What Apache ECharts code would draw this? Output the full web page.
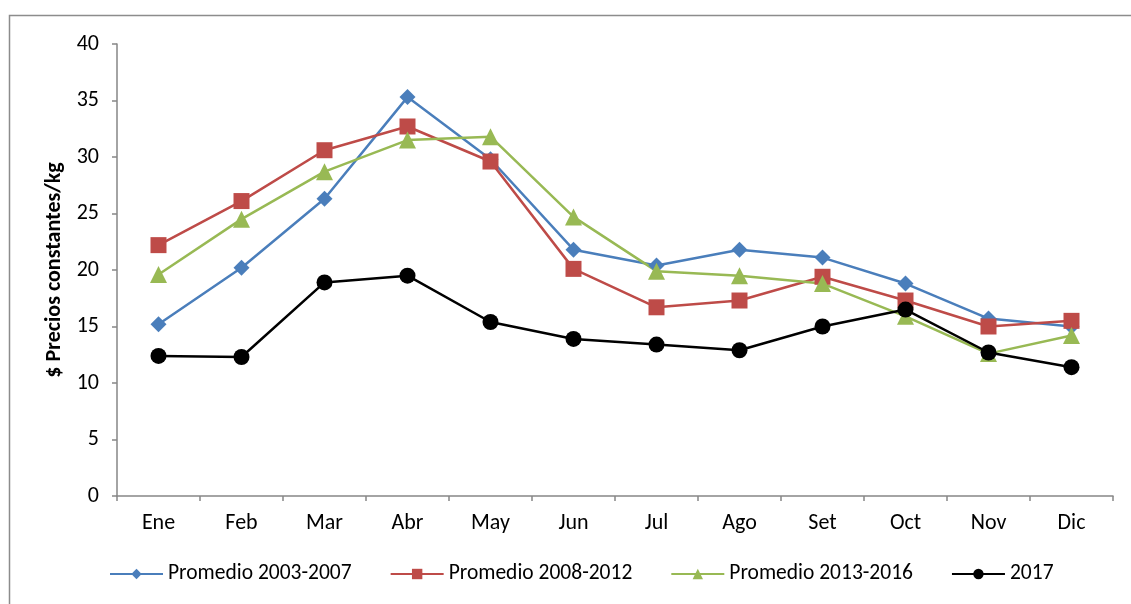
<!DOCTYPE html>
<html>
<head>
<meta charset="utf-8">
<script src="https://cdn.jsdelivr.net/npm/echarts@6/dist/echarts.min.js"></script>
<style>
html,body{margin:0;padding:0;background:#fff;}
#chart{width:1131px;height:604px;}
</style>
</head>
<body>
<div id="chart"></div>
<script>
var months = ['Ene','Feb','Mar','Abr','May','Jun','Jul','Ago','Set','Oct','Nov','Dic'];
var prom0307 = [15.2, 20.2, 26.3, 35.3, 29.8, 21.8, 20.4, 21.8, 21.1, 18.8, 15.7, 15.0];
var prom0812 = [22.2, 26.1, 30.6, 32.7, 29.6, 20.1, 16.7, 17.3, 19.4, 17.3, 15.0, 15.5];
var prom1316 = [19.6, 24.5, 28.7, 31.5, 31.8, 24.7, 19.9, 19.5, 18.8, 15.9, 12.6, 14.2];
var y2017 = [12.4, 12.3, 18.9, 19.5, 15.4, 13.9, 13.4, 12.9, 15.0, 16.5, 12.7, 11.4];
var seriesNames = ['Promedio 2003-2007','Promedio 2008-2012','Promedio 2013-2016','2017'];

var font = 'Carlito, "Open Sans", "Noto Sans", sans-serif';
var chart = echarts.init(document.getElementById('chart'));
function mk(name, data, color, symbol, size) {
  return {
    name: name, type: 'line', data: data, symbol: symbol, symbolSize: size,
    lineStyle: {color: color, width: 2.5},
    itemStyle: {color: color},
    animation: false
  };
}
chart.setOption({
  backgroundColor: '#fff',
  animation: false,
  graphic: [{
    type: 'rect', shape: {x: 9.5, y: 15.5, width: 1200, height: 700},
    style: {fill: 'none', stroke: '#8c8c8c', lineWidth: 1.5}, silent: true
  }],
  grid: {left: 117, right: 18, top: 44, bottom: 108},
  legend: {
    top: 558, left: 104, itemWidth: 53, itemHeight: 13, itemGap: 38,
    textStyle: {fontFamily: font, fontSize: 21.5, color: '#000', padding: [0, 0, 0, 0]},
    data: seriesNames
  },
  xAxis: {
    type: 'category', data: months, boundaryGap: true,
    axisLine: {lineStyle: {color: '#868686', width: 1.5}},
    axisTick: {show: true, length: 5, interval: 0, lineStyle: {color: '#868686', width: 1.5}},
    axisLabel: {fontFamily: font, fontSize: 22, color: '#000', margin: 16, interval: 0}
  },
  yAxis: {
    type: 'value', min: 0, max: 40, interval: 5,
    name: '$ Precios constantes/kg', nameLocation: 'middle', nameGap: 48,
    nameTextStyle: {fontFamily: font, fontSize: 22, fontWeight: 'bold', color: '#000'},
    axisLine: {show: true, lineStyle: {color: '#868686', width: 1.5}},
    axisTick: {show: true, length: 5, lineStyle: {color: '#868686', width: 1.5}},
    splitLine: {show: false},
    axisLabel: {fontFamily: font, fontSize: 22, color: '#000', margin: 18}
  },
  series: [
    mk(seriesNames[0], prom0307, '#4a7ebb', 'diamond', 16),
    mk(seriesNames[1], prom0812, '#be4b48', 'rect', 16),
    mk(seriesNames[2], prom1316, '#98b954', 'triangle', 17),
    mk(seriesNames[3], y2017, '#000000', 'circle', 16)
  ]
});
</script>
</body>
</html>
